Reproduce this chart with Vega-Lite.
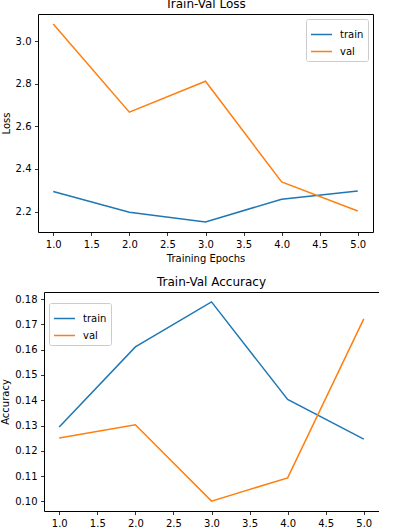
{
  "$schema": "https://vega.github.io/schema/vega-lite/v6.json",
  "background": "white",
  "padding": {"left": 0, "top": -3, "right": 0, "bottom": 0},
  "spacing": 12,
  "columns": 1,
  "align": "none",
  "config": {
    "font": "DejaVu Sans",
    "view": {"stroke": "black", "strokeWidth": 1},
    "axis": {
      "grid": false,
      "domain": false,
      "tickColor": "black",
      "tickSize": 3.5,
      "tickWidth": 0.8,
      "labelFontSize": 10,
      "labelColor": "black",
      "labelPadding": 3.5,
      "labelFont": "DejaVu Sans",
      "titleFontSize": 10,
      "titleFontWeight": "normal",
      "titleColor": "black",
      "titleFont": "DejaVu Sans",
      "titlePadding": 4
    },
    "title": {"fontSize": 12, "fontWeight": "normal", "color": "black", "font": "DejaVu Sans", "baseline": "alphabetic", "offset": 3},
    "legend": {
      "orient": "top-right",
      "offset": 5,
      "title": null,
      "padding": 4,
      "strokeColor": "#cccccc",
      "fillColor": "rgba(255,255,255,0.8)",
      "cornerRadius": 2,
      "symbolType": "stroke",
      "symbolSize": 441,
      "symbolStrokeWidth": 1.5,
      "labelFontSize": 10,
      "labelColor": "black",
      "labelFont": "DejaVu Sans",
      "labelOffset": 7,
      "rowPadding": -5
    }
  },
  "datasets": {
    "loss": [
      {"epoch": 1, "series": "train", "value": 2.294},
      {"epoch": 2, "series": "train", "value": 2.197},
      {"epoch": 3, "series": "train", "value": 2.151},
      {"epoch": 4, "series": "train", "value": 2.258},
      {"epoch": 5, "series": "train", "value": 2.297},
      {"epoch": 1, "series": "val", "value": 3.081},
      {"epoch": 2, "series": "val", "value": 2.667},
      {"epoch": 3, "series": "val", "value": 2.812},
      {"epoch": 4, "series": "val", "value": 2.339},
      {"epoch": 5, "series": "val", "value": 2.203}
    ],
    "acc": [
      {"epoch": 1, "series": "train", "value": 0.1294},
      {"epoch": 2, "series": "train", "value": 0.1611},
      {"epoch": 3, "series": "train", "value": 0.1789},
      {"epoch": 4, "series": "train", "value": 0.1403},
      {"epoch": 5, "series": "train", "value": 0.1246},
      {"epoch": 1, "series": "val", "value": 0.1251},
      {"epoch": 2, "series": "val", "value": 0.1303},
      {"epoch": 3, "series": "val", "value": 0.1001},
      {"epoch": 4, "series": "val", "value": 0.1093},
      {"epoch": 5, "series": "val", "value": 0.1722}
    ]
  },
  "concat": [
    {
      "width": 335,
      "height": 218,
      "title": "Train-Val Loss",
      "data": {"name": "loss"},
      "mark": {"type": "line", "strokeWidth": 1.5},
      "encoding": {
        "x": {"field": "epoch", "type": "quantitative", "title": "Training Epochs",
              "scale": {"domain": [0.8, 5.2], "nice": false, "zero": false},
              "axis": {"values": [1, 1.5, 2, 2.5, 3, 3.5, 4, 4.5, 5], "format": ".1f"}},
        "y": {"field": "value", "type": "quantitative", "title": "Loss",
              "scale": {"domain": [2.104, 3.128], "nice": false, "zero": false},
              "axis": {"values": [2.2, 2.4, 2.6, 2.8, 3.0], "format": ".1f"}},
        "color": {"field": "series", "type": "nominal",
                  "scale": {"domain": ["train", "val"], "range": ["#1f77b4", "#ff7f0e"]}}
      }
    },
    {
      "width": 341,
      "height": 219,
      "view": {"stroke": null},
      "title": {"text": "Train-Val Accuracy", "dx": 3},
      "data": {"name": "acc"},
      "layer": [
        {
          "mark": {"type": "line", "strokeWidth": 1.5},
          "encoding": {
            "x": {"field": "epoch", "type": "quantitative", "title": null,
                  "scale": {"domain": [0.8, 5.2], "range": [6, 341], "nice": false, "zero": false},
                  "axis": {"values": [1, 1.5, 2, 2.5, 3, 3.5, 4, 4.5, 5], "format": ".1f", "domain": true, "domainColor": "black", "domainWidth": 1}},
            "y": {"field": "value", "type": "quantitative", "title": "Accuracy",
                  "scale": {"domain": [0.0962, 0.1828], "nice": false, "zero": false},
                  "axis": {"values": [0.10, 0.11, 0.12, 0.13, 0.14, 0.15, 0.16, 0.17, 0.18], "format": ".2f", "offset": -6, "domain": true, "domainColor": "black", "domainWidth": 1}},
            "color": {"field": "series", "type": "nominal",
                      "scale": {"domain": ["train", "val"], "range": ["#1f77b4", "#ff7f0e"]},
                      "legend": {"orient": "top-left", "offset": 11}}
          }
        },
        {
          "mark": {"type": "line", "opacity": 0},
          "encoding": {
            "x": {"field": "epoch", "type": "quantitative",
                  "axis": {"orient": "top", "title": null, "labels": false, "ticks": false, "domain": true, "domainColor": "black", "domainWidth": 1}},
            "y": {"field": "value", "type": "quantitative",
                  "axis": {"orient": "right", "title": null, "labels": false, "ticks": false, "domain": true, "domainColor": "black", "domainWidth": 1}}
          }
        }
      ],
      "resolve": {"axis": {"x": "independent", "y": "independent"}}
    }
  ],
  "resolve": {"legend": {"color": "independent"}, "scale": {"color": "independent"}}
}
